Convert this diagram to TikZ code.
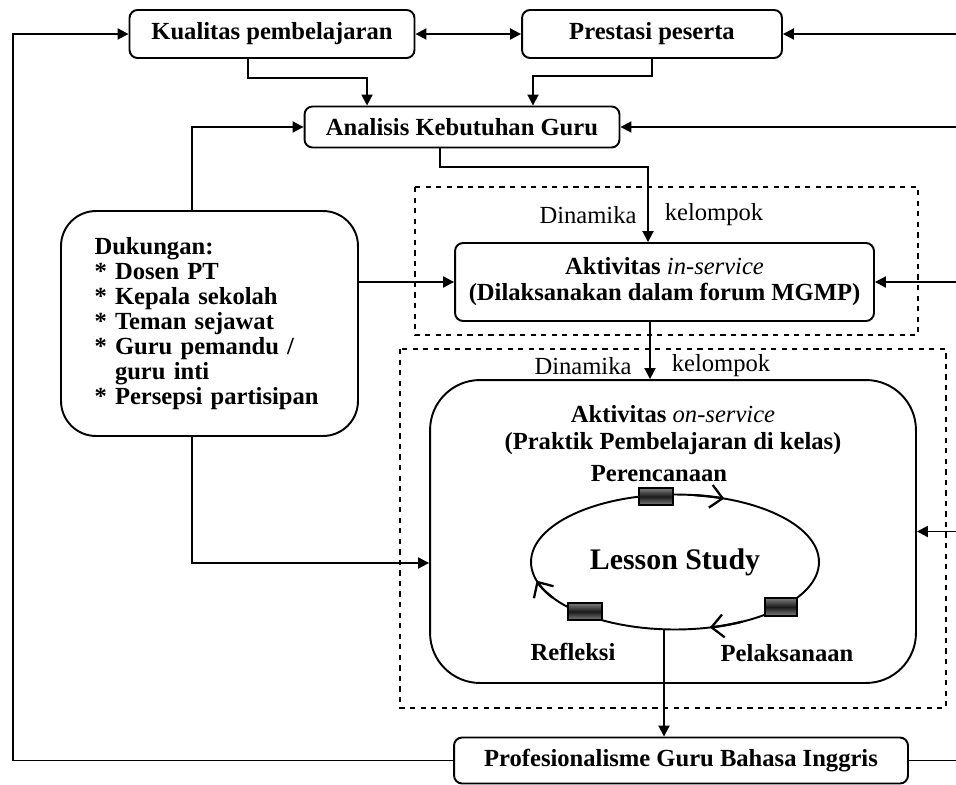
\documentclass[tikz,border=0pt]{standalone}
\usepackage{fontspec}
\setmainfont{Liberation Serif}
\usetikzlibrary{arrows.meta,shapes.geometric}

\begin{document}
\begin{tikzpicture}[x=0.02cm, y=-0.02cm, line width=1.1pt,
    >={Triangle[length=2.2mm,width=2.2mm]},
    box/.style={draw, rounded corners=0.16cm, inner sep=0pt, align=center,
        font=\fontsize{14}{14.8}\selectfont\bfseries},
    group/.style={draw, dashed, line width=0.6pt},
    dyn/.style={font=\fontsize{14}{15}\selectfont},
    lbl/.style={font=\fontsize{14}{15}\selectfont\bfseries},
    barb/.style={line width=1.3pt, -{Straight Barb[length=2.4mm,width=4.6mm]}},
    tab/.style={draw, line width=0.6pt, top color=black!50, bottom color=black!50, middle color=black!90}]
    \useasboundingbox (0,0) rectangle (956,784);

    % Dashed groups
    \draw[group] (415,187) rectangle (918,335);
    \draw[group] (400,349) rectangle (946,708);

    % Top row
    \node[box, minimum width=5.7cm, minimum height=0.96cm] (kual) at (272,34) {Kualitas pembelajaran};
    \node[box, minimum width=5.2cm, minimum height=0.96cm] (pres) at (652,34) {Prestasi peserta};
    \node[box, minimum width=6.3cm, minimum height=0.82cm] (anal) at (462,127) {Analisis Kebutuhan Guru};

    % Support
    \node[box, rounded corners=0.7cm, minimum width=5.94cm, minimum height=4.5cm,
        align=left, text width=4.6cm, font=\fontsize{14}{14.2}\selectfont\bfseries] (dukung) at (209.5,323.5)
        {Dukungan:\\{*} Dosen PT\\{*} Kepala sekolah\\{*} Teman sejawat\\{*} Guru pemandu~/\\\hphantom{{*} }guru inti\\{*} Persepsi partisipan};

    % In-service
    \node[box, minimum width=8.38cm, minimum height=1.56cm] (insv) at (664.5,282)
        {Aktivitas \textit{\mdseries in-service}\\(Dilaksanakan dalam forum MGMP)};
    \node[dyn] (dyn1a) at (588,215) {Dinamika};
    \node[dyn] (dyn1b) at (714,215) {kelompok};

    % On-service
    \node[box, rounded corners=1cm, minimum width=9.72cm, minimum height=6.06cm] (onsv) at (673,531.5) {};
    \node[lbl, align=center] (onsvt) at (673,430) {Aktivitas \textit{\mdseries on-service}\\(Praktik Pembelajaran di kelas)};
    \node[dyn] (dyn2a) at (583,366) {Dinamika};
    \node[dyn] (dyn2b) at (721,366) {kelompok};

    % Lesson study cycle
    \node[draw, ellipse, minimum width=5.76cm, minimum height=2.7cm, inner sep=0pt,
        font=\fontsize{17}{20}\selectfont\bfseries] (lstudy) at (675,562) {Lesson Study};
    \draw[barb] ([shift={(82:2.88cm and 1.35cm)}]lstudy.center) arc[start angle=82, end angle=70, x radius=2.88cm, y radius=1.35cm];
    \draw[barb] ([shift={(298:2.88cm and 1.35cm)}]lstudy.center) arc[start angle=298, end angle=284, x radius=2.88cm, y radius=1.35cm];
    \draw[barb] ([shift={(212:2.88cm and 1.35cm)}]lstudy.center) arc[start angle=212, end angle=196, x radius=2.88cm, y radius=1.35cm];
    \draw[tab] (639,488) rectangle (673,505);
    \draw[tab] (765,598) rectangle (797,616);
    \draw[tab] (568,603) rectangle (602,620);
    \node[lbl] (renc) at (659,474) {Perencanaan};
    \node[lbl] (refl) at (573,652) {Refleksi};
    \node[lbl] (pelak) at (787,653) {Pelaksanaan};

    % Outcome
    \node[box, minimum width=9.08cm, minimum height=0.92cm] (prof) at (681,760.5) {Profesionalisme Guru Bahasa Inggris};

    % Frame coordinates
    \coordinate (edge) at (956,0);
    \coordinate (lft) at (13,0);

    % Connectors
    \draw[<->] (kual) -- (pres);
    \draw[->] ([xshift=-0.48cm]kual.south) -- ++(0,19) -| ([xshift=-1.9cm]anal.north);
    \draw[->] (pres.south) -- ++(0,17) -| ([xshift=1.42cm]anal.north);
    \draw[->] ([xshift=-0.35cm]dukung.north) |- (anal.west);
    \draw[->] (dukung.east |- insv.west) -- (insv.west);
    \draw[->] ([xshift=-0.35cm]dukung.south) |- ([yshift=-0.63cm]onsv.west);
    \draw[->] ([xshift=-0.44cm]anal.south) -- ++(0,19) -| ([xshift=-0.33cm]insv.north);
    \draw[->] ([xshift=-0.29cm]insv.south) -- ([xshift=-0.29cm]insv.south |- onsv.north);
    \draw[->] ([xshift=-0.22cm]lstudy.south) -- ([xshift=-0.22cm]lstudy.south |- prof.north);

    % Feedback lines
    \draw[->] (prof.west) -| (lft |- kual.west) -- (kual.west);
    \draw[->] (edge |- pres.east) -- (pres.east);
    \draw[->] (edge |- anal.east) -- (anal.east);
    \draw[->] (edge |- insv.east) -- (insv.east);
    \draw[->] (edge |- onsv.east) -- (onsv.east);
    \draw (prof.east) -- (edge |- prof.east);
\end{tikzpicture}
\end{document}
